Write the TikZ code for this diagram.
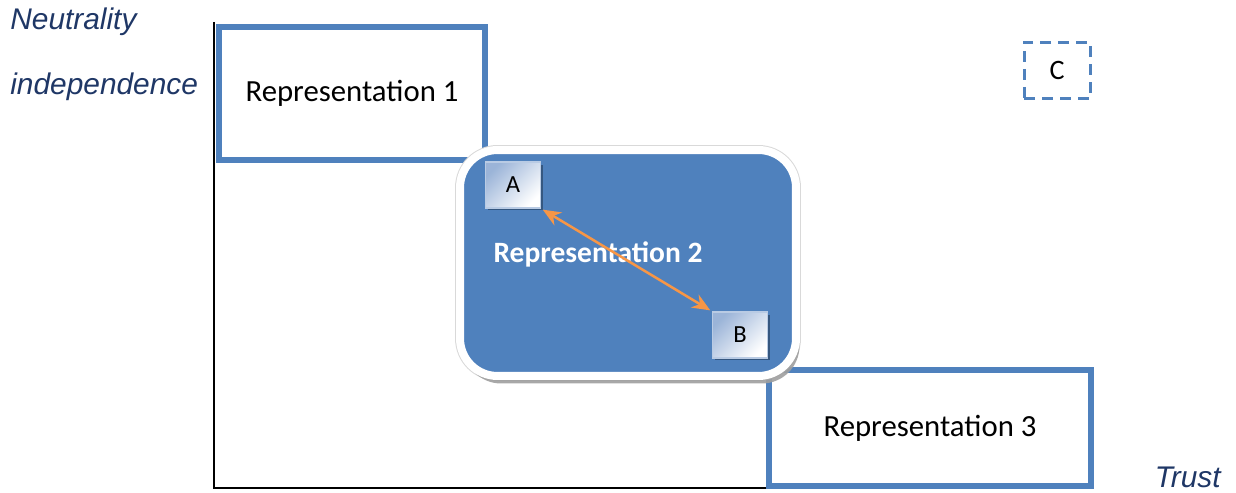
\documentclass[tikz,border=0pt]{standalone}
\usepackage{fontspec}
\setmainfont{Carlito}
\newfontfamily\axisfont{Liberation Sans}
\usetikzlibrary{arrows.meta, shadows, positioning}
\definecolor{steel}{HTML}{4F81BD}
\definecolor{navy}{HTML}{1F3766}
\definecolor{tangerine}{HTML}{F79646}
\definecolor{frost}{HTML}{9BB4D8}

\begin{document}
\begin{tikzpicture}[x=0.02cm, y=-0.02cm,
			repStyle/.style={draw=steel, line width=0.12cm, fill=white, font=\fontsize{17.5}{20}\selectfont, align=center},
			coreStyle/.style={draw=white, fill=steel, line width=0.16cm, rounded corners=0.75cm, preaction={draw=gray!30, line width=0.2cm}, drop shadow={shadow xshift=0.07cm, shadow yshift=-0.15cm, fill=gray!75, opacity=0.9}},
			pointStyle/.style={draw=frost!70, line width=0.03cm, shading=axis, left color=frost, right color=white, shading angle=45, font=\fontsize{14}{16}\selectfont, minimum width=1.1cm, minimum height=0.92cm, drop shadow={shadow xshift=0.05cm, shadow yshift=-0.05cm, fill=steel!60!black, opacity=0.8}},
			axisLabel/.style={text=navy, font=\axisfont\itshape\fontsize{17}{20}\selectfont, inner sep=0pt},
			arrowStyle/.style={{Stealth[length=0.36cm, width=0.3cm]}-{Stealth[length=0.36cm, width=0.3cm]}, line width=0.05cm, tangerine, shorten <=1pt, shorten >=1pt},]
			
			\useasboundingbox (0,0) rectangle (1236,493);
			
			% axes
			\coordinate (yTop) at (214,22);
			\coordinate (origin) at (214,488);
			\coordinate (xEnd) at (770,488);
			\draw[line width=0.03cm] (yTop) -- (origin) -- (xEnd);
			
			\node[axisLabel, anchor=west] (neutral) at (10,22) {Neutrality};
			\node[axisLabel, anchor=west] (indep) at (10,87) {independence};
			\node[axisLabel, anchor=east] (trust) at (1221,477) {Trust};
			
			% outer representations
			\node[repStyle, minimum width=5.34cm, minimum height=2.68cm] (rep1) at (352,93.5) {Representation 1};
			\node[repStyle, minimum width=6.43cm, minimum height=2.33cm] (rep3) at (930,428) {Representation 3};
			
			% middle representation
			\node[coreStyle, minimum width=6.72cm, minimum height=4.52cm] (rep2) at (628,263) {};
			\node[text=white, font=\bfseries\fontsize{16.8}{20}\selectfont] (rep2text) at (598,254) {Representation 2};
			
			\node[pointStyle] (a) at (513,185) {A};
			\node[pointStyle] (b) at (740,335) {B};
			\draw[arrowStyle] (a.south east) -- (b.north west);
			
			% dashed box
			\node[draw=steel, line width=0.06cm, dash pattern=on 0.22cm off 0.14cm, minimum width=1.32cm, minimum height=1.14cm, font=\fontsize{16}{18}\selectfont] (c) at (1057,70.5) {C};
		\end{tikzpicture}
\end{document}
